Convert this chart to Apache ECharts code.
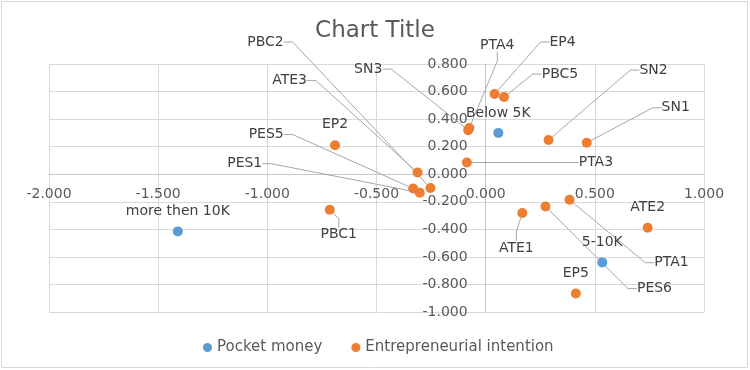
<!DOCTYPE html>
<html>
<head>
<meta charset="utf-8">
<script src="https://cdn.jsdelivr.net/npm/echarts@6/dist/echarts.min.js"></script>
<style>
  html, body { margin: 0; padding: 0; background: #fff; }
  #main { width: 750px; height: 370px; }
</style>
</head>
<body>
<div id="main"></div>
<script>
// pocket money groups
const pocketNames = ['Below 5K', 'more then 10K', '5-10K'];
const pocketX = [0.058, -1.41, 0.534];
const pocketY = [0.30, -0.415, -0.64];

// entrepreneurial intention items
const intentNames = ['EP2', 'SN3', 'PTA4', 'EP4', 'PBC5', 'SN2', 'SN1', 'PTA3', 'ATE3',
  'PBC2', 'PES5', 'PES1', 'PBC1', 'ATE1', 'PES6', 'PTA1', 'ATE2', 'EP5'];
const intentX = [-0.69, -0.08, -0.075, 0.041, 0.084, 0.288, 0.463, -0.086, -0.312,
  -0.253, -0.332, -0.302, -0.714, 0.168, 0.274, 0.384, 0.742, 0.413];
const intentY = [0.21, 0.32, 0.335, 0.582, 0.56, 0.248, 0.228, 0.085, 0.012,
  -0.10, -0.104, -0.134, -0.258, -0.282, -0.234, -0.185, -0.389, -0.866];

const xTicks = [-2, 1, 0.5];   // min, max, step
const yTicks = [-1, 0.8, 0.2];

// where each label sits relative to its point (px)
const labelOffsets = {
  'Below 5K': [0, -20], 'more then 10K': [0, -20], '5-10K': [0, -20],
  'EP2': [0, -21], 'SN3': [-100, -61], 'PTA4': [28, -83], 'EP4': [68, -52],
  'PBC5': [56, -23], 'SN2': [105, -70], 'SN1': [89, -35], 'PTA3': [129, 0],
  'ATE3': [-128, -92], 'PBC2': [-165, -146], 'PES5': [-147, -54], 'PES1': [-175, -29],
  'PBC1': [9, 25], 'ATE1': [-6, 35], 'PES6': [109, 82], 'PTA1': [102, 63],
  'ATE2': [0, -20], 'EP5': [0, -20]
};

const font = 'DejaVu Sans';
const grey = '#595959';
const W = 750, H = 370;
const gridPos = { left: 49, right: 46, top: 64, bottom: 58 };

function points(names, xs, ys) {
  return names.map(function (n, i) {
    const o = labelOffsets[n] || [0, -20];
    const far = Math.hypot(o[0], o[1]) > 24;
    return { name: n, value: [xs[i], ys[i]], labelLine: { show: far } };
  });
}

const seriesLabel = {
  show: true,
  position: 'inside',
  formatter: '{b}',
  color: '#404040',
  fontFamily: font,
  fontSize: 14,
  textBorderWidth: 0
};
const seriesLabelLine = {
  show: true,
  length2: 9,
  lineStyle: { color: '#a6a6a6', width: 1 }
};
function layout(p) {
  const o = labelOffsets[p.text] || [0, -20];
  return { dx: o[0], dy: o[1] };
}

let myChart = echarts.init(document.getElementById('main'));
let option = {
  animation: false,
  title: {
    text: 'Chart Title',
    left: 'center',
    top: 15,
    textStyle: { fontFamily: font, fontSize: 23, fontWeight: 'normal', color: grey }
  },
  legend: {
    left: 198,
    top: 335,
    itemWidth: 9,
    itemHeight: 9,
    itemGap: 29,
    icon: 'circle',
    textStyle: { fontFamily: font, fontSize: 15, color: grey },
    data: ['Pocket money', 'Entrepreneurial intention']
  },
  graphic: [{
    type: 'rect',
    shape: { x: 1.5, y: 1.5, width: 746, height: 366 },
    style: { fill: 'none', stroke: '#d9d9d9', lineWidth: 1 },
    silent: true
  }],
  grid: Object.assign({ containLabel: false, outerBoundsMode: 'none' }, gridPos),
  xAxis: {
    type: 'value',
    min: xTicks[0], max: xTicks[1], interval: xTicks[2],
    axisLine: { onZero: false, lineStyle: { color: '#c8c8c8' } },
    axisTick: { show: false },
    axisLabel: {
      margin: 13, fontFamily: font, fontSize: 14, color: grey,
      formatter: function (v) { return v.toFixed(3); }
    },
    splitLine: { lineStyle: { color: '#d9d9d9' } }
  },
  yAxis: {
    type: 'value',
    min: yTicks[0], max: yTicks[1], interval: yTicks[2],
    axisLine: { onZero: false, lineStyle: { color: '#c8c8c8' } },
    axisTick: { show: false },
    axisLabel: {
      margin: 18, fontFamily: font, fontSize: 14, color: grey,
      formatter: function (v) { return v.toFixed(3); }
    },
    splitLine: { lineStyle: { color: '#d9d9d9' } }
  },
  series: [
    {
      name: 'Pocket money',
      type: 'scatter',
      symbolSize: 10,
      itemStyle: { color: '#5B9BD5', opacity: 1 },
      label: seriesLabel,
      labelLine: seriesLabelLine,
      labelLayout: layout,
      data: points(pocketNames, pocketX, pocketY)
    },
    {
      name: 'Entrepreneurial intention',
      type: 'scatter',
      symbolSize: 10,
      itemStyle: { color: '#ED7D31', opacity: 1 },
      label: seriesLabel,
      labelLine: seriesLabelLine,
      labelLayout: layout,
      data: points(intentNames, intentX, intentY)
    }
  ]
};
myChart.setOption(option);

// move both axes so they cross at the origin, like the Excel chart
const origin = myChart.convertToPixel({ gridIndex: 0 }, [0, 0]);
myChart.setOption({
  xAxis: { offset: origin[1] - (H - gridPos.bottom) },
  yAxis: { offset: gridPos.left - origin[0] }
});

window.addEventListener('resize', function () {
  myChart.resize();
}, false);
</script>
</body>
</html>
